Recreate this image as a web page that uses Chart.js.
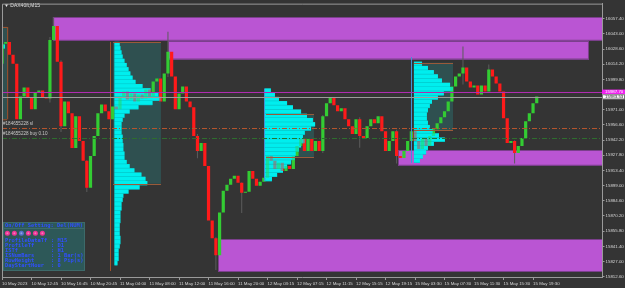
<!DOCTYPE html>
<html>
<head>
  <title>DAX40ft M15</title>
  <script src="https://cdn.jsdelivr.net/npm/chart.js"></script>
  <style>
    body { margin: 0; background: #343434; }
    canvas { display: block; }
  </style>
</head>
<body>
  <canvas id="chart" width="625" height="288"></canvas>
  <script>
    // x axis: one label every 8 bars
    const xLabels = ['10 May 2023', '10 May 12:45', '10 May 16:45', '10 May 20:45', '11 May 04:00', '11 May 08:00',
      '11 May 12:00', '11 May 16:00', '11 May 20:00', '12 May 03:15', '12 May 07:15', '12 May 11:15', '12 May 15:15',
      '12 May 19:15', '15 May 03:30', '15 May 07:30', '15 May 11:30', '15 May 15:30', '15 May 19:30'];
    const barsPerLabel = 8;
    const yTicks = [16057.4, 16043.0, 16028.6, 16014.2, 15999.8, 15985.4, 15971.0, 15956.6, 15942.2, 15927.8,
      15913.4, 15899.0, 15884.6, 15870.2, 15855.8, 15841.4, 15827.0, 15812.6];

    // candles (open of each bar = previous close)
    const firstOpen = 16014.7;
    const closes = [
      16033.6, 16035.4, 16023.2, 16014.7, 15962.0, 15983.7, 15992.1, 15982.7, 15971.4, 15987.4,
      15989.3, 15982.7, 15981.8, 16037.3, 16050.5, 16016.6, 15955.4, 15978.9, 15967.6, 15934.7,
      15964.8, 15941.3, 15922.5, 15897.0, 15927.2, 15946.0, 15967.6, 15976.1, 15969.5, 15962.0,
      15974.2, 15971.4, 15983.7, 15988.4, 15980.8, 15986.5, 15978.9, 15985.5, 15981.8, 15990.3,
      15983.7, 15997.8, 16000.6, 15978.9, 16005.3, 16026.0, 16002.5, 15971.4, 15986.5, 15993.1,
      15978.9, 15973.3, 15946.0, 15931.9, 15939.4, 15917.7, 15866.0, 15849.0, 15833.0, 15873.5,
      15894.2, 15899.9, 15905.5, 15908.3, 15901.8, 15892.3, 15893.3, 15913.0, 15905.5, 15899.0,
      15902.7, 15906.5, 15927.2, 15922.5, 15914.9, 15920.6, 15913.0, 15917.7, 15914.9, 15927.2,
      15936.6, 15943.2, 15931.9, 15943.2, 15931.9, 15941.3, 15931.9, 15964.8, 15977.1, 15982.7,
      15975.2, 15969.5, 15972.4, 15962.0, 15955.4, 15947.9, 15962.0, 15946.0, 15944.1, 15955.4,
      15962.0, 15958.2, 15964.8, 15950.7, 15931.9, 15941.3, 15950.7, 15927.2, 15925.3, 15931.9,
      15941.3, 15950.7, 15941.3, 15933.7, 15943.2, 15936.6, 15946.0, 15952.6, 15958.2, 15963.9,
      15969.5, 15978.9, 15993.1, 16002.5, 16005.3, 16011.0, 15997.8, 15992.1, 15994.0, 15985.5,
      15994.0, 15988.4, 16009.1, 16002.5, 15995.9, 15988.4, 15963.0, 15939.4, 15941.3, 15930.0,
      15936.6, 15944.1, 15960.1, 15967.6, 15977.1, 15983.53
    ];
    // visible wicks: [bar, low, high]
    const wicks = [
      [0, 16012.0, 16036.5], [13, 15978.0, 16040.0], [14, 16036.0, 16058.5], [16, 15950.0, 16018.0],
      [23, 15893.0, 15923.0], [45, 16002.0, 16045.0], [53, 15925.0, 15948.0], [58, 15818.9, 15850.0],
      [65, 15873.0, 15902.0], [87, 15930.0, 15966.0], [97, 15935.0, 15964.0], [107, 15920.0, 15952.0],
      [125, 15995.0, 16031.0], [132, 15993.0, 16014.0], [139, 15920.0, 15942.0]
    ];

    // supply / demand zones
    const zoneFrom = [13.8, 45.0, 107.4, 58.6];
    const zoneTo = [170, 158.9, 170, 170];
    const zoneHigh = [16059.0, 16036.4, 15932.8, 15848.1];
    const zoneLow = [16037.3, 16019.4, 15918.7, 15818.0];

    // volume profiles, row widths in bars, rows of 4 points from the top price down
    const rowStep = 4;
    const profStart = [30.5, 71.3, 111.7];
    const profTop = [16035.4, 15991.2, 16016.6];
    const profRows = [
      [1.4, 1.6, 1.9, 2.2, 2.7, 3.3, 3.8, 4.3, 4.9, 5.7, 7.6, 9.8, 11.9, 12.5, 10.3, 6.5, 4.1, 2.7, 2.2, 1.9,
        1.9, 1.9, 2.2, 2.2, 2.4, 2.4, 2.7, 2.7, 3.3, 4.1, 5.4, 7.3, 8.4, 8.9, 6.8, 3.8, 2.4, 2.2, 1.9, 1.9,
        1.6, 1.6, 1.6, 1.4, 1.4, 1.4, 1.6, 1.6, 1.4, 1.1, 1.1, 1.1, 0.8],
      [1.6, 2.7, 3.8, 6.0, 7.6, 9.8, 11.4, 13.0, 13.6, 12.5, 10.8, 10.3, 10.8, 9.8, 9.2, 8.4, 8.1, 7.1, 6.0, 4.9,
        3.3, 1.9],
      [2.2, 3.8, 5.4, 6.5, 7.6, 9.8, 10.6, 8.1, 6.5, 4.9, 4.3, 3.8, 3.5, 3.5, 3.8, 4.3, 5.2, 6.8, 8.4, 5.4,
        3.8, 3.3, 2.4, 1.6]
    ];
    // value areas: from bar, to bar, high, low
    const vaFrom = [30.1, 71.6, 111.7];
    const vaTo = [43.1, 84.6, 122.3];
    const vaHigh = [16035.0, 15966.7, 16015.7];
    const vaLow = [15900.8, 15926.2, 15951.7];
    // day start lines: bar, top, bottom
    const dayLineBar = [29.3, 71.0, 110.9];
    const dayLineTop = [16035.4, 15991.2, 16021.0];
    const dayLineBottom = [15818.0, 15903.2, 15920.6];

    // horizontal levels
    const askLevel = 15987.70;
    const bidLevel = 15983.53;
    const slLevel = 15953.5;
    const buyLevel = 15944.2;

    const panelRows = [['ProfileDataTf', 'M15'], ['ProfileTf', 'D1'], ['ISTf', 'H1'],
      ['ISNumBars', '1 Bar(s)'], ['RowHeight', '8 Pip(s)'], ['DayStartHour', '0']];

    const green = '#33cc33';
    const red = '#ff1a1a';
    const opens = closes.map((c, i) => i === 0 ? firstOpen : closes[i - 1]);
    const bodyData = closes.map((c, i) => ({ x: i, y: [opens[i], c] }));
    const bodyColors = closes.map((c, i) => c >= opens[i] ? green : red);
    const wickData = wicks.map(w => ({ x: w[0], y: [w[1], w[2]] }));

    function drawProfileRows(ctx, X, Y, alpha) {
      ctx.save();
      ctx.globalAlpha = alpha;
      for (let p = 0; p < profRows.length; p++) {
        profRows[p].forEach((w, k) => {
          const y1 = Y(profTop[p] - k * rowStep);
          const y2 = Y(profTop[p] - (k + 1) * rowStep);
          const x1 = X(profStart[p]);
          ctx.fillStyle = '#00eeee';
          ctx.fillRect(x1, y1, X(profStart[p] + w) - x1, y2 - y1);
          ctx.fillStyle = 'rgba(0,140,150,0.45)';
          ctx.fillRect(x1, y2 - 0.5, X(profStart[p] + w) - x1, 0.5);
        });
      }
      ctx.restore();
    }

    const overlay = {
      id: 'overlay',
      beforeDraw(chart) {
        const ctx = chart.ctx;
        ctx.save();
        ctx.fillStyle = '#343434';
        ctx.fillRect(0, 0, chart.width, chart.height);
        ctx.restore();
      },
      beforeDatasetsDraw(chart) {
        const ctx = chart.ctx, a = chart.chartArea;
        const X = v => chart.scales.x.getPixelForValue(v);
        const Y = v => chart.scales.y.getPixelForValue(v);
        ctx.save();
        ctx.beginPath();
        ctx.rect(a.left, a.top, a.right - a.left, a.bottom - a.top);
        ctx.clip();
        // previous day's profile at the left edge
        ctx.fillStyle = '#2f5050';
        ctx.fillRect(X(-0.1), Y(16049.6), X(1.4) - X(-0.1), Y(15962) - Y(16049.6));
        ctx.fillStyle = '#00eeee';
        ctx.fillRect(X(-0.1), Y(16033), X(0.8) - X(-0.1), Y(16029) - Y(16033));
        ctx.strokeStyle = '#a0522d';
        ctx.lineWidth = 1;
        ctx.beginPath();
        ctx.moveTo(a.left, Y(16049.6) + 0.5); ctx.lineTo(X(1.4), Y(16049.6) + 0.5);
        ctx.moveTo(a.left, Y(15962) + 0.5); ctx.lineTo(X(1.4), Y(15962) + 0.5);
        ctx.moveTo(X(1.4) + 0.5, Y(16049.6)); ctx.lineTo(X(1.4) + 0.5, Y(15962));
        ctx.stroke();
        // zones
        for (let z = 0; z < zoneFrom.length; z++) {
          const x1 = X(zoneFrom[z]), x2 = Math.min(X(zoneTo[z]), a.right);
          const y1 = Y(zoneHigh[z]), y2 = Y(zoneLow[z]);
          ctx.fillStyle = '#ba55d3';
          ctx.fillRect(x1, y1, x2 - x1, y2 - y1);
          ctx.strokeStyle = '#7b3f8c';
          ctx.strokeRect(Math.round(x1) + 0.5, Math.round(y1) + 0.5, Math.round(x2 - x1), Math.round(y2 - y1));
        }
        // value areas
        for (let p = 0; p < vaFrom.length; p++) {
          ctx.fillStyle = '#2f5050';
          ctx.fillRect(X(vaFrom[p]), Y(vaHigh[p]), X(vaTo[p]) - X(vaFrom[p]), Y(vaLow[p]) - Y(vaHigh[p]));
        }
        drawProfileRows(ctx, X, Y, 1);
        ctx.restore();
      },
      afterDatasetsDraw(chart) {
        const ctx = chart.ctx, a = chart.chartArea;
        const X = v => chart.scales.x.getPixelForValue(v);
        const Y = v => chart.scales.y.getPixelForValue(v);
        ctx.save();
        ctx.beginPath();
        ctx.rect(a.left, a.top, a.right - a.left, a.bottom - a.top);
        ctx.clip();
        drawProfileRows(ctx, X, Y, 0.6);
        // value area borders
        ctx.lineWidth = 1;
        ctx.strokeStyle = '#9a5a3a';
        ctx.beginPath();
        for (let p = 0; p < vaFrom.length; p++) {
          for (const v of [vaHigh[p], vaLow[p]]) {
            const y = Math.round(Y(v)) + 0.5;
            ctx.moveTo(X(vaFrom[p]), y); ctx.lineTo(X(vaTo[p]), y);
          }
        }
        ctx.stroke();
        // day start lines
        dayLineBar.forEach((b, k) => {
          ctx.strokeStyle = k === 0 ? '#a0522d' : '#3f95d5';
          ctx.beginPath();
          const x = Math.round(X(b)) + 0.5;
          ctx.moveTo(x, Y(dayLineTop[k])); ctx.lineTo(x, Y(dayLineBottom[k]));
          ctx.stroke();
        });
        // levels
        const hline = (v, color, dash) => {
          ctx.strokeStyle = color;
          ctx.setLineDash(dash);
          ctx.beginPath();
          const y = Math.round(Y(v)) + 0.5;
          ctx.moveTo(a.left, y); ctx.lineTo(a.right, y);
          ctx.stroke();
        };
        hline(slLevel, '#b4552d', [5, 2, 1, 2]);
        hline(buyLevel, '#2e6e2e', [5, 2, 1, 2]);
        hline(askLevel, '#b02cb0', []);
        hline(bidLevel, '#9c9c9c', []);
        ctx.setLineDash([]);
        ctx.restore();

        // texts on the chart
        ctx.save();
        ctx.textBaseline = 'middle';
        ctx.font = '5px "Liberation Sans"';
        ctx.fillStyle = '#e6e6e6';
        ctx.fillText('\u25BC DAX40ft,M15', 4, 5.5);
        ctx.font = '4.6px "Liberation Sans"';
        ctx.fillStyle = '#c8c8c8';
        ctx.fillText('#184655228 sl', 3, Y(slLevel) - 4);
        ctx.fillText('#184655228 buy 0.10', 3, Y(buyLevel) - 4);

        // info panel
        ctx.fillStyle = '#2d5858';
        ctx.fillRect(3, 222, 82, 49);
        ctx.strokeStyle = '#3d6a6a';
        ctx.strokeRect(3.5, 222.5, 81, 48);
        ctx.beginPath(); ctx.moveTo(3, 228.5); ctx.lineTo(85, 228.5); ctx.stroke();
        ctx.font = 'bold 5.4px "DejaVu Sans Mono"';
        ctx.fillStyle = '#3050ff';
        ctx.fillText('On/Off Setting: Del(NUM)', 5, 225.6);
        ['#ef3596', '#ef3596', '#5570cc', '#ef3596', '#ef3596', '#ef3596'].forEach((c, k) => {
          ctx.fillStyle = c;
          ctx.beginPath();
          ctx.arc(7.4 + k * 7, 233.2, 2.5, 0, Math.PI * 2);
          ctx.fill();
          ctx.fillStyle = 'rgba(255,255,255,0.35)';
          ctx.beginPath();
          ctx.arc(7.4 + k * 7, 233.2, 1, 0, Math.PI * 2);
          ctx.fill();
        });
        ctx.fillStyle = '#3050ff';
        panelRows.forEach((r, k) => {
          ctx.fillText(r[0], 5, 240.5 + k * 5);
          ctx.fillText(': ' + r[1], 51, 240.5 + k * 5);
        });
        ctx.restore();
      },
      afterDraw(chart) {
        const ctx = chart.ctx, a = chart.chartArea;
        const Y = v => chart.scales.y.getPixelForValue(v);
        ctx.save();
        // frame left / top
        ctx.strokeStyle = '#9a9a9a';
        ctx.lineWidth = 1;
        ctx.beginPath();
        ctx.moveTo(a.left + 0.5, a.bottom); ctx.lineTo(a.left + 0.5, a.top + 0.5); ctx.lineTo(a.right, a.top + 0.5);
        ctx.stroke();
        // price labels on the axis
        ctx.font = '4.4px "Liberation Sans"';
        ctx.textBaseline = 'middle';
        const ya = Y(askLevel), yb = Y(bidLevel);
        ctx.fillStyle = '#ee22ee';
        ctx.fillRect(a.right, ya - 2.6, 23, 4.8);
        ctx.fillStyle = '#ffffff';
        ctx.fillText(askLevel.toFixed(2), a.right + 3, ya);
        ctx.fillStyle = '#ffffff';
        ctx.fillRect(a.right, yb - 2.3, 23, 4.8);
        ctx.strokeStyle = '#7a7a7a';
        ctx.strokeRect(a.right + 0.5, yb - 1.8, 22, 4.2);
        ctx.fillStyle = '#222222';
        ctx.fillText(bidLevel.toFixed(2), a.right + 3, yb + 0.2);
        ctx.restore();
      }
    };

    new Chart(document.getElementById('chart'), {
      type: 'bar',
      data: {
        datasets: [
          { label: 'wicks', data: wickData, backgroundColor: '#5c5c5c', borderWidth: 0,
            grouped: false, maxBarThickness: 1, minBarLength: 1, order: 2 },
          { label: 'bodies', data: bodyData, backgroundColor: bodyColors, borderWidth: 0,
            grouped: false, barPercentage: 1, categoryPercentage: 0.9, maxBarThickness: 3.2,
            minBarLength: 1, order: 1 }
        ]
      },
      options: {
        responsive: false,
        animation: false,
        devicePixelRatio: 1,
        layout: { padding: { left: 2, top: 1.5, right: 0, bottom: 0 } },
        plugins: { legend: { display: false }, tooltip: { enabled: false } },
        scales: {
          x: {
            type: 'linear',
            offset: false,
            min: 0,
            max: 162.7,
            afterFit: s => { s.height = 11; },
            afterBuildTicks: s => { s.ticks = xLabels.map((l, k) => ({ value: k * barsPerLabel })); },
            ticks: {
              autoSkip: false, maxRotation: 0, minRotation: 0, align: 'start', padding: 1,
              color: '#d6d6d6', font: { family: 'Liberation Sans', size: 4.4 },
              callback: (v, i) => xLabels[i]
            },
            grid: { drawOnChartArea: false, offset: false, tickLength: 3, color: '#9a9a9a' },
            border: { color: '#9a9a9a' }
          },
          y: {
            type: 'linear',
            position: 'right',
            min: 15812.3,
            max: 16071.7,
            afterFit: s => { s.width = 23; },
            afterBuildTicks: s => { s.ticks = yTicks.map(v => ({ value: v })); },
            ticks: {
              autoSkip: false, padding: 1, color: '#d6d6d6',
              font: { family: 'Liberation Sans', size: 4.4 },
              callback: v => v.toFixed(2)
            },
            grid: { drawOnChartArea: false, tickLength: 2.5, color: '#9a9a9a' },
            border: { color: '#9a9a9a' }
          }
        }
      },
      plugins: [overlay]
    });
  </script>
</body>
</html>
